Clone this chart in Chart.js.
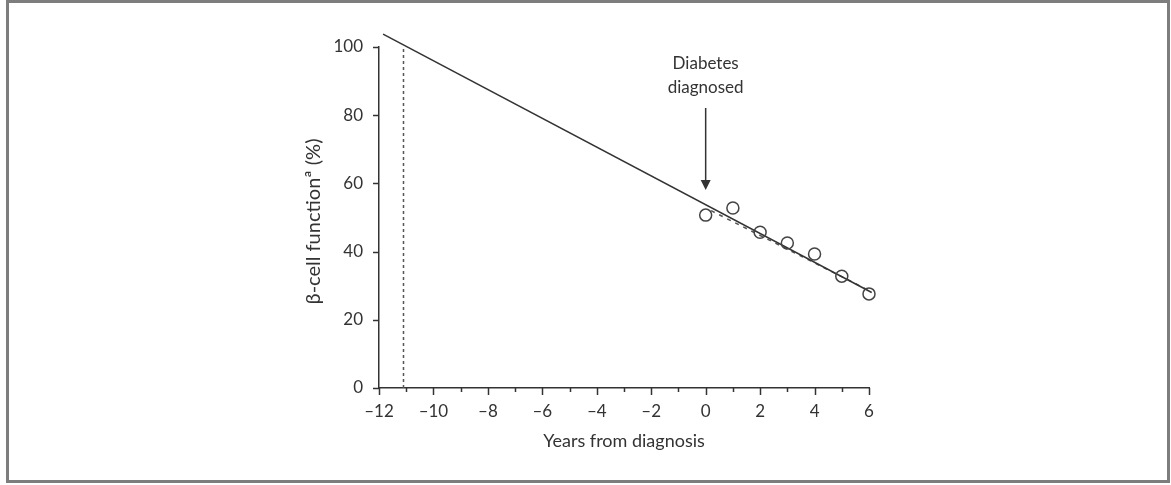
<!DOCTYPE html>
<html>
<head>
<meta charset="utf-8">
<script src="https://cdn.jsdelivr.net/npm/chart.js@4/dist/chart.umd.min.js"></script>
<style>
  body { margin: 0; background: #fff; }
  #wrap { position: relative; width: 1171px; height: 485px; }
</style>
</head>
<body>
<div id="wrap"><canvas id="container" width="1171" height="485"></canvas></div>
<script>
// measured points, years from diagnosis
var years = [0, 1, 2, 3, 4, 5, 6];
var betaCell = [50.7, 52.8, 45.7, 42.5, 39.3, 32.8, 27.6];
// extrapolated decline (solid)
var trendX = [-11.85, 6.1];
var trendY = [103.8, 28.0];
// fit through measured points (dashed)
var fitX = [0.2, 6];
var fitY = [52.0, 28.6];
// estimated onset of decline (dotted)
var onsetX = [-11.1, -11.1];
var onsetY = [0, 100];
var xTicks = [-12, -11, -10, -9, -8, -7, -6, -5, -4, -3, -2, -1, 0, 1, 2, 3, 4, 5, 6];
var yTicks = [0, 20, 40, 60, 80, 100];
var diagnosisYear = 0;

var ink = '#333';
var font = 'Lato, "Open Sans", sans-serif';

function pts(xs, ys) {
  return xs.map(function(x, i) { return {x: x, y: ys[i]}; });
}
function fmt(v) {
  return v < 0 ? '\u2013' + Math.abs(v) : '' + v;
}

var decor = {
  id: 'decor',
  beforeDraw: function(chart) {
    var c = chart.ctx;
    c.save();
    c.fillStyle = '#fff';
    c.fillRect(0, 0, chart.width, chart.height);
    c.strokeStyle = '#7d7d7d';
    c.lineWidth = 3;
    c.strokeRect(7.5, 1.5, 1161, 480);
    c.restore();
  },
  afterDraw: function(chart) {
    var c = chart.ctx;
    var xs = chart.scales.x, ys = chart.scales.y;
    var y0 = ys.getPixelForValue(0);
    var x0 = xs.getPixelForValue(-12);
    c.save();
    c.strokeStyle = ink;
    c.lineWidth = 1.5;
    // x ticks: long at even, short at odd
    xTicks.forEach(function(v) {
      var px = Math.round(xs.getPixelForValue(v)) + 0.5;
      var len = (v % 2 === 0) ? 7 : 4;
      c.beginPath(); c.moveTo(px, y0); c.lineTo(px, y0 + len); c.stroke();
    });
    yTicks.forEach(function(v) {
      var py = Math.round(ys.getPixelForValue(v)) + 0.5;
      c.beginPath(); c.moveTo(x0, py); c.lineTo(x0 - 6, py); c.stroke();
    });
    c.fillStyle = ink;
    c.textAlign = 'center';
    c.textBaseline = 'middle';
    // x title
    c.font = '18px ' + font;
    c.fillText('Years from diagnosis', (xs.left + xs.right) / 2, 441);
    // y title
    c.font = '20px ' + font;
    c.translate(314, (ys.top + ys.bottom) / 2 + 4);
    c.rotate(-Math.PI / 2);
    c.fillText('\u03B2-cell function\u00AA (%)', 0, 0);
    c.restore();

    // diagnosis annotation
    var ax = xs.getPixelForValue(diagnosisYear);
    c.save();
    c.fillStyle = ink;
    c.strokeStyle = ink;
    c.font = '17px ' + font;
    c.textAlign = 'center';
    c.textBaseline = 'middle';
    c.fillText('Diabetes', ax, 64);
    c.fillText('diagnosed', ax, 88);
    c.lineWidth = 1.5;
    c.beginPath(); c.moveTo(ax, 108); c.lineTo(ax, 182); c.stroke();
    c.beginPath(); c.moveTo(ax - 5, 180); c.lineTo(ax + 5, 180); c.lineTo(ax, 190); c.closePath(); c.fill();
    c.restore();
  }
};

var ctx = document.getElementById('container');
new Chart(ctx, {
  type: 'scatter',
  data: {
    datasets: [{
      label: 'Measured',
      data: pts(years, betaCell),
      pointRadius: 6,
      pointBorderWidth: 1.5,
      pointBorderColor: '#444',
      pointBackgroundColor: 'rgba(255,255,255,0)',
      showLine: false,
      clip: false,
      order: 0
    }, {
      label: 'Decline',
      data: pts(trendX, trendY),
      showLine: true,
      borderColor: ink,
      borderWidth: 1.5,
      pointRadius: 0,
      clip: false,
      order: 1
    }, {
      label: 'Fit',
      data: pts(fitX, fitY),
      showLine: true,
      borderColor: '#555',
      borderWidth: 1.5,
      borderDash: [4, 5],
      pointRadius: 0,
      order: 2
    }, {
      label: 'Onset',
      data: pts(onsetX, onsetY),
      showLine: true,
      borderColor: '#555',
      borderWidth: 1.5,
      borderDash: [3, 3],
      pointRadius: 0,
      order: 3
    }]
  },
  options: {
    responsive: false,
    animation: false,
    layout: { padding: { left: 0, right: 302, top: 47, bottom: 0 } },
    plugins: { legend: { display: false }, tooltip: { enabled: false } },
    scales: {
      x: {
        type: 'linear',
        min: -12, max: 6,
        afterFit: function(s) { s.height = 97; },
        border: { display: true, color: ink, width: 1.5 },
        grid: { drawOnChartArea: false, drawTicks: false },
        ticks: {
          stepSize: 1, autoSkip: false, maxRotation: 0, padding: 13,
          color: ink, font: { family: font, size: 17 },
          callback: function(v) { return v % 2 === 0 ? fmt(v) : ''; }
        }
      },
      y: {
        min: 0, max: 100,
        afterFit: function(s) { s.width = 379; },
        border: { display: true, color: ink, width: 1.5 },
        grid: { drawOnChartArea: false, drawTicks: false },
        ticks: {
          stepSize: 20, padding: 16,
          color: ink, font: { family: font, size: 17 }
        }
      }
    }
  },
  plugins: [decor]
});
</script>
</body>
</html>
